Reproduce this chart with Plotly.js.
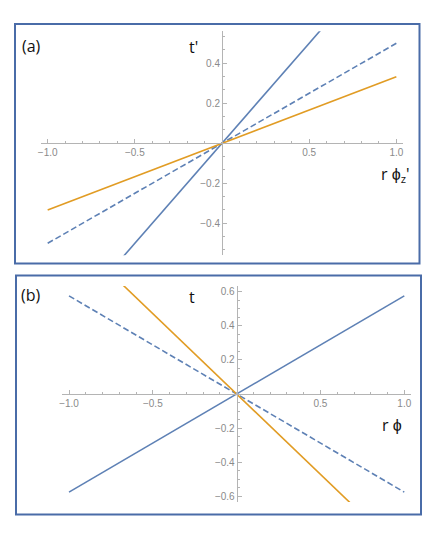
<!DOCTYPE html>
<html>
<head>
<meta charset="utf-8">
<script src="https://cdn.plot.ly/plotly-3.0.1.min.js"></script>
<style>
  html, body { margin: 0; padding: 0; background: #fff; }
  #chart { width: 436px; height: 537px; }
</style>
</head>
<body>
<div id="chart"></div>
<script>
// two Mathematica-style panels: lines through the origin, axes crossing at 0

const xEnds = [-1, 1];

// panel (a): t' against r phi_z'
const aSteep  = [-1, 1];
const aDashed = [-0.5, 0.5];
const aOrange = [-0.333, 0.333];

// panel (b): t against r phi
const bSolid  = [-0.577, 0.577];
const bDashed = [0.577, -0.577];
const bOrange = [0.945, -0.945];

const xTickVals = [-1, -0.5, 0.5, 1];
const xTickText = ['\u22121.0', '\u22120.5', '0.5', '1.0'];
const aYTickVals = [-0.4, -0.2, 0.2, 0.4];
const aYTickText = ['\u22120.4', '\u22120.2', '0.2', '0.4'];
const bYTickVals = [-0.6, -0.4, -0.2, 0.2, 0.4, 0.6];
const bYTickText = ['\u22120.6', '\u22120.4', '\u22120.2', '0.2', '0.4', '0.6'];

const BLUE = '#5e81b5';
const ORANGE = '#e19c24';
const AXIS = '#b4b4b4';
const TICKFONT = { family: 'Liberation Sans, Arial, sans-serif', size: 10, color: '#8a8a8a' };
const LABELFONT = { family: 'Open Sans, Liberation Sans, sans-serif', size: 16, color: '#111' };
const W = 436, H = 537;

const px = x => x / W;
const py = y => 1 - y / H;

function line(x, y, color, dash, xa, ya) {
    return {
        x, y, xaxis: xa, yaxis: ya,
        type: 'scatter', mode: 'lines',
        line: { color, width: 1.6, dash: dash || 'solid' },
        hoverinfo: 'skip', showlegend: false,
    };
}

function xAxis(domain, pos, anchorY) {
    return {
        domain, range: [-1.04, 1.04], anchor: 'free', position: pos, overlaying: undefined,
        showgrid: false, zeroline: false, showline: true, linecolor: AXIS, linewidth: 1,
        tickmode: 'array', tickvals: xTickVals, ticktext: xTickText,
        ticks: 'inside', ticklen: 4, tickcolor: AXIS, tickfont: TICKFONT,
        minor: { ticks: 'inside', ticklen: 2, tickcolor: AXIS, tickmode: 'linear', tick0: 0, dtick: 0.1 },
        fixedrange: true,
    };
}

function yAxis(domain, range, pos, vals, text, minorStep) {
    return {
        domain, range, anchor: 'free', position: pos,
        showgrid: false, zeroline: false, showline: true, linecolor: AXIS, linewidth: 1,
        tickmode: 'array', tickvals: vals, ticktext: text,
        ticks: 'inside', ticklen: 4, tickcolor: AXIS, tickfont: TICKFONT,
        minor: { ticks: 'inside', ticklen: 2, tickcolor: AXIS, tickmode: 'linear', tick0: 0, dtick: minorStep },
        fixedrange: true,
    };
}

const traces = [
    line(xEnds, aSteep,  BLUE,   'solid',     'x',  'y'),
    line(xEnds, aDashed, BLUE,   '6px,3px',   'x',  'y'),
    line(xEnds, aOrange, ORANGE, 'solid',     'x',  'y'),
    line(xEnds, bSolid,  BLUE,   'solid',     'x2', 'y2'),
    line(xEnds, bDashed, BLUE,   '6px,3px',   'x2', 'y2'),
    line(xEnds, bOrange, ORANGE, 'solid',     'x2', 'y2'),
];

const border = (x0, y0, x1, y1) => ({
    type: 'rect', xref: 'paper', yref: 'paper',
    x0: px(x0), x1: px(x1), y0: py(y0), y1: py(y1),
    line: { color: '#4a6ca8', width: 2 }, fillcolor: 'rgba(0,0,0,0)', layer: 'above',
});

const label = (x, y, text) => ({
    xref: 'paper', yref: 'paper', x: px(x), y: py(y), text,
    showarrow: false, font: LABELFONT, xanchor: 'center', yanchor: 'middle',
});

const layout = {
    width: W, height: H,
    margin: { l: 0, r: 0, t: 0, b: 0 },
    paper_bgcolor: '#fff', plot_bgcolor: 'rgba(0,0,0,0)',
    xaxis:  xAxis([px(40.7), px(403.3)], py(143.3)),
    yaxis:  yAxis([py(255.3), py(31.3)], [-0.56, 0.56], px(222), aYTickVals, aYTickText, 0.2 / 3),
    xaxis2: xAxis([px(62.3), px(411.0)], py(394)),
    yaxis2: yAxis([py(502), py(286)], [-0.635, 0.635], px(236.65), bYTickVals, bYTickText, 0.05),
    shapes: [
        border(15, 24, 419.5, 263.5),
        border(16, 275.5, 421, 514.5),
    ],
    annotations: [
        label(31, 46, '(a)'),
        label(193, 47, "t'"),
        label(395, 174, "r \u03d5<sub>z</sub>'"),
        label(31, 295, '(b)'),
        label(192, 297, 't'),
        label(392, 425, 'r \u03d5'),
    ],
    showlegend: false,
};

Plotly.newPlot('chart', traces, layout, { displayModeBar: false, staticPlot: true });
</script>
</body>
</html>
